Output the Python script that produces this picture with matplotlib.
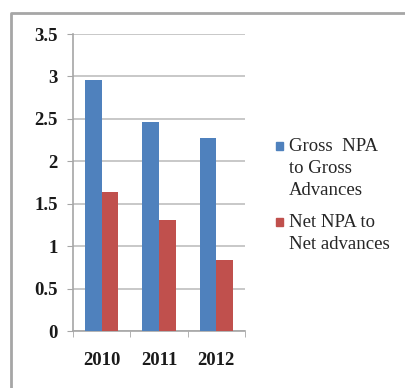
import matplotlib.pyplot as plt
from matplotlib.patches import Rectangle
from matplotlib.lines import Line2D
import numpy as np

years = ['2010', '2011', '2012']
gross = [2.96, 2.46, 2.27]
net = [1.64, 1.31, 0.84]
labels = ['Gross  NPA\nto Gross\nAdvances', 'Net NPA to\nNet advances']
colors = ['#4F81BD', '#C0504D']

W, H = 406, 388
fig = plt.figure(figsize=(W / 100, H / 100), dpi=100)
plt.rcParams['font.family'] = 'Liberation Serif'

# outer frame of the chart (only top and left edges are visible)
fig.lines.append(Line2D([11 / W, 11 / W, 1.0], [0.0, 1 - 13 / H, 1 - 13 / H],
                        transform=fig.transFigure, color='#A6A6A6', linewidth=2))

ax = fig.add_axes([73 / W, 1 - 331 / H, (245 - 73) / W, (331 - 34) / H])
x = np.arange(len(years))
bw = 0.29
ax.bar(x - bw / 2, gross, bw, color=colors[0], zorder=3)
ax.bar(x + bw / 2, net, bw, color=colors[1], zorder=3)

ax.set_xlim(-0.5, 2.5)
ax.set_ylim(0, 3.5)
ax.set_yticks(np.arange(0, 3.51, 0.5))
ax.set_yticklabels(['0', '0.5', '1', '1.5', '2', '2.5', '3', '3.5'])
ax.yaxis.grid(True, color='#BFBFBF', linewidth=1.2, zorder=0)
ax.set_axisbelow(True)

ax.set_xticks(x)
ax.set_xticklabels(years)
ax.set_xticks([-0.5, 0.5, 1.5, 2.5], minor=True)
ax.tick_params(axis='x', which='major', length=0, pad=15)
ax.tick_params(axis='x', which='minor', length=4, color='#A6A6A6', direction='out')
ax.tick_params(axis='y', length=4, color='#A6A6A6', pad=7)
for t in ax.get_xticklabels() + ax.get_yticklabels():
    t.set_fontsize(13.5)
    t.set_fontweight('bold')
    t.set_color('#1a1a1a')

for s in ['top', 'right']:
    ax.spines[s].set_visible(False)
ax.spines['left'].set_color('#A6A6A6')
ax.spines['bottom'].set_color('#A6A6A6')
ax.spines['left'].set_linewidth(1.2)
ax.spines['bottom'].set_linewidth(1.2)

# legend drawn by hand so the square sits on the first line
ypos = [146, 222]
for lab, c, yp in zip(labels, colors, ypos):
    fig.patches.append(Rectangle((276 / W, 1 - (yp + 4) / H), 7 / W, 8 / H,
                                 transform=fig.transFigure, color=c))
    fig.text(289 / W, 1 - (yp - 8) / H, lab, fontsize=13.5, va='top', ha='left',
             linespacing=1.38, color='#262626')

fig.savefig('out.png', dpi=100)
